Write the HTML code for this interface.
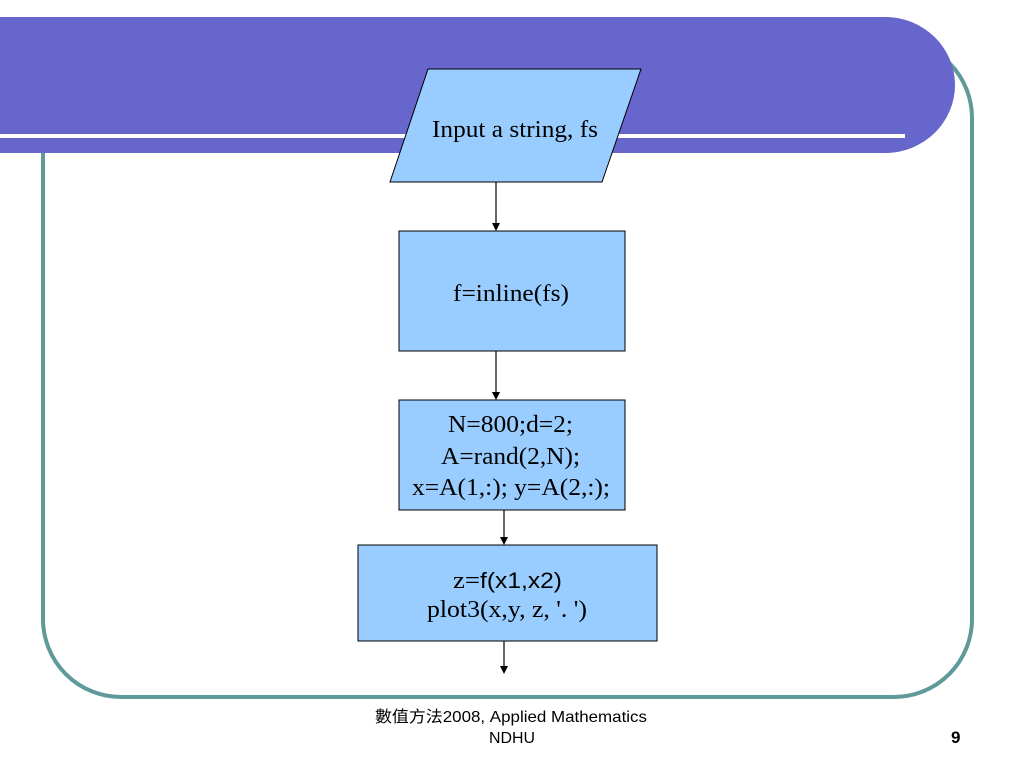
<!DOCTYPE html>
<html><head><style>body{margin:0;background:#fff;}</style></head><body>
<svg width="1024" height="768" xmlns="http://www.w3.org/2000/svg" style="display:block">
<rect x="43" y="40" width="929" height="657" rx="78" ry="78" fill="none" stroke="#5f9999" stroke-width="4"/>
<path d="M0 17 H885 A70 68 0 0 1 885 153 H0 Z" fill="#6666cc"/>
<rect x="0" y="134" width="905" height="4" fill="#fff"/>
<g stroke="#000" stroke-width="1" fill="#99ccff">
<polygon points="428,69 641,69 602,182 390,182"/>
<rect x="399" y="231" width="226" height="120"/>
<rect x="399" y="400" width="226" height="110"/>
<rect x="358" y="545" width="299" height="96"/>
</g>
<g stroke="#000" stroke-width="1.2">
<line x1="496" y1="182" x2="496" y2="224"/>
<line x1="496" y1="351" x2="496" y2="393"/>
<line x1="504" y1="510" x2="504" y2="538"/>
<line x1="504" y1="641" x2="504" y2="667"/>
</g>
<g fill="#000">
<polygon points="492,223 500,223 496,231"/>
<polygon points="492,392 500,392 496,400"/>
<polygon points="500,537 508,537 504,545"/>
<polygon points="500,666 508,666 504,674"/>
</g>
<g font-family="Liberation Serif, serif" font-size="24" fill="#000">
<text x="432" y="137" textLength="166" lengthAdjust="spacingAndGlyphs">Input a string, fs</text>
<text x="453" y="301" textLength="116" lengthAdjust="spacingAndGlyphs">f=inline(fs)</text>
<text x="448" y="432" textLength="125" lengthAdjust="spacingAndGlyphs">N=800;d=2;</text>
<text x="441" y="464" textLength="139" lengthAdjust="spacingAndGlyphs">A=rand(2,N);</text>
<text x="412" y="495" textLength="198" lengthAdjust="spacingAndGlyphs">x=A(1,:); y=A(2,:);</text>
<text x="453" y="588" textLength="109" lengthAdjust="spacingAndGlyphs">z=<tspan font-family="Liberation Sans, sans-serif" font-size="22">f(x1,x2)</tspan></text>
<text x="427" y="617" textLength="160" lengthAdjust="spacingAndGlyphs">plot3(x,y, z, '. ')</text>
</g>
<g font-family="Liberation Sans, 'Noto Sans CJK TC', sans-serif" font-size="16" fill="#000">
<text x="375" y="722" textLength="272" lengthAdjust="spacingAndGlyphs">數值方法2008, Applied Mathematics</text>
<text x="489" y="743" textLength="46" lengthAdjust="spacingAndGlyphs">NDHU</text>
<text x="951" y="743" font-weight="bold" font-size="17">9</text>
</g>
</svg>
</body></html>
